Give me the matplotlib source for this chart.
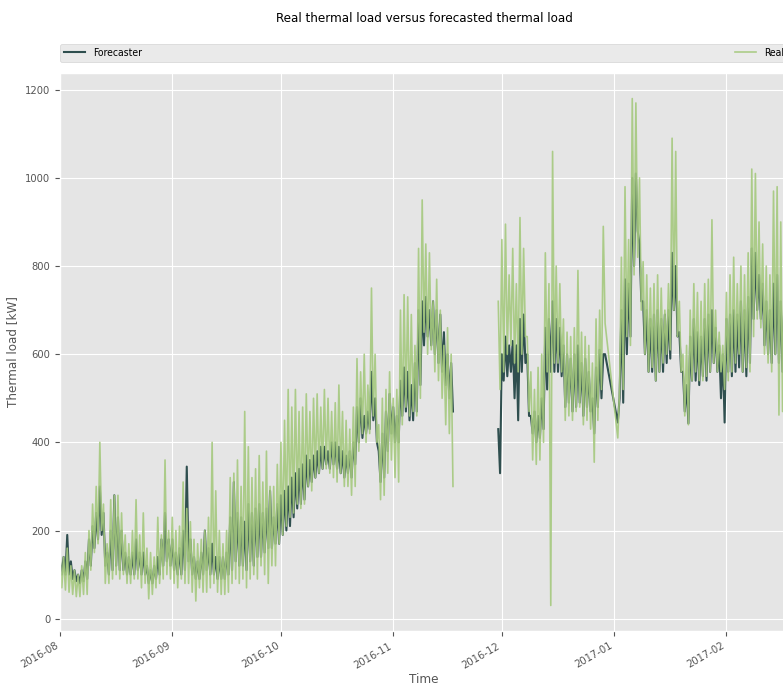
import matplotlib
matplotlib.use('Agg')
import matplotlib.pyplot as plt
import matplotlib.dates as mdates
import numpy as np
import pandas as pd

# 12-hourly readings (first value of each day = daily high, second = daily low), kW
chunk_starts = ['2016-08-01', '2016-09-01', '2016-10-01', '2016-11-01',
                '2016-11-30', '2017-01-02', '2017-02-01']

real_aug = [150, 70, 140, 65, 160, 60, 120, 55, 110, 50, 100, 50, 120, 55, 150, 55,
            200, 110, 260, 150, 300, 170, 400, 200, 260, 80, 170, 80, 270, 90, 280, 100,
            280, 90, 240, 100, 190, 80, 170, 80, 200, 90, 270, 90, 190, 70, 240, 80,
            160, 45, 150, 55, 140, 70, 230, 80, 190, 90, 360, 100, 200, 90]
fc_aug = [130, 100, 140, 100, 190, 100, 130, 90, 110, 85, 100, 80, 110, 85, 130, 90,
          180, 120, 210, 160, 240, 180, 300, 190, 240, 120, 150, 100, 200, 110, 280, 120,
          230, 110, 200, 110, 150, 100, 140, 100, 150, 100, 180, 110, 150, 100, 150, 100,
          120, 80, 110, 80, 120, 90, 140, 100, 180, 120, 240, 130, 180, 120]

real_sep = [230, 80, 200, 70, 210, 90, 310, 80, 250, 80, 220, 60, 180, 40, 170, 70,
            180, 60, 200, 60, 230, 70, 400, 80, 290, 60, 200, 55, 170, 55, 200, 60,
            320, 80, 330, 90, 360, 80, 300, 90, 470, 70, 390, 90, 320, 100, 340, 90,
            370, 120, 310, 100, 380, 80, 300, 120, 300, 120, 350, 170]
fc_sep = [180, 110, 150, 100, 160, 100, 200, 110, 345, 130, 180, 100, 140, 90, 130, 90,
          150, 100, 200, 110, 160, 100, 170, 100, 140, 90, 140, 90, 140, 90, 150, 100,
          230, 110, 310, 130, 240, 120, 230, 120, 220, 110, 260, 130, 240, 120, 250, 140,
          260, 140, 240, 150, 250, 160, 290, 160, 230, 170, 260, 170]

real_oct = [400, 190, 450, 210, 520, 230, 480, 240, 520, 260, 470, 250, 480, 260, 510, 300,
            470, 290, 500, 320, 510, 330, 480, 340, 520, 340, 500, 330, 470, 320, 490, 310,
            530, 330, 470, 300, 450, 300, 430, 280, 480, 300, 590, 380, 560, 420, 600, 400,
            530, 420, 750, 460, 600, 400, 440, 270, 500, 280, 520, 330, 560, 360]
fc_oct = [280, 190, 290, 200, 300, 210, 320, 230, 330, 250, 340, 260, 350, 270, 370, 300,
          360, 310, 370, 320, 380, 330, 390, 340, 390, 350, 380, 340, 400, 350, 400, 340,
          390, 330, 380, 320, 370, 330, 380, 320, 400, 350, 480, 400, 500, 410, 460, 420,
          470, 430, 560, 450, 500, 400, 380, 310, 420, 320, 470, 380, 510, 420]

real_nov = [500, 320, 520, 310, 700, 440, 735, 480, 730, 460, 690, 470, 620, 460, 840, 500,
            950, 650, 850, 600, 830, 610, 720, 560, 770, 540, 700, 500, 620, 440, 660, 420,
            600, 300]
fc_nov = [480, 400, 460, 400, 540, 460, 570, 470, 560, 450, 530, 450, 580, 470, 700, 530,
          720, 620, 730, 640, 700, 620, 720, 600, 700, 580, 690, 560, 650, 530, 600, 500,
          580, 470]

real_dec = [720, 520, 860, 560, 895, 600, 780, 620, 840, 580, 760, 560, 910, 600, 840, 640,
            640, 470, 560, 360, 520, 350, 570, 360, 600, 400, 830, 560, 760, 30, 1060, 580,
            800, 580, 760, 560, 680, 450, 650, 460, 640, 450, 660, 470, 790, 480, 650, 440,
            640, 450, 620, 430, 580, 355, 680, 450, 700, 520, 890, 670]
fc_dec = [430, 330, 600, 540, 640, 550, 620, 560, 630, 500, 620, 450, 680, 560, 690, 580,
          600, 460, 460, 420, 470, 400, 460, 410, 500, 430, 660, 520, 680, 560, 720, 560,
          680, 560, 660, 550, 620, 480, 600, 490, 590, 470, 600, 480, 620, 490, 580, 460,
          590, 480, 560, 470, 500, 420, 570, 480, 610, 500, 600, 600]

real_jan = [410, 520, 820, 520, 980, 640, 860, 620, 1180, 780, 1170, 820, 1000, 700, 810, 600,
            780, 560, 750, 570, 760, 540, 780, 560, 750, 580, 700, 600, 760, 610, 1090, 700,
            1060, 640, 720, 560, 600, 460, 620, 440, 700, 540, 760, 560, 740, 540, 720, 540,
            760, 550, 770, 560, 905, 580, 700, 560, 650, 560, 620, 520]
fc_jan = [445, 500, 700, 490, 770, 600, 760, 640, 1000, 800, 1010, 880, 850, 720, 720, 600,
          700, 560, 680, 560, 690, 540, 700, 560, 680, 560, 690, 580, 700, 590, 830, 700,
          800, 640, 650, 560, 560, 470, 530, 443, 640, 540, 680, 540, 650, 530, 640, 550,
          680, 540, 690, 560, 700, 580, 660, 560, 620, 500, 600, 445]

real_feb = [740, 540, 780, 560, 820, 580, 760, 600, 800, 560, 780, 570, 830, 560, 1020, 640,
            1010, 680, 900, 660, 850, 600, 800, 580, 780, 560, 970, 600, 980, 462, 900, 470,
            820, 600, 800, 600, 780, 600]
fc_feb = [680, 560, 690, 550, 700, 560, 690, 570, 720, 560, 700, 550, 730, 580, 840, 680,
          830, 700, 780, 680, 760, 620, 720, 600, 700, 580, 760, 600, 780, 580, 720, 560,
          720, 580, 700, 580, 700, 580]

gap_time = '2016-11-24'  # no data between Nov 18 and Nov 29


def build(chunks):
    parts = []
    for start, vals in zip(chunk_starts, chunks):
        idx = pd.date_range(start, periods=len(vals), freq='12h')
        parts.append(pd.Series(vals, index=idx, dtype=float))
    parts.insert(4, pd.Series([np.nan], index=pd.DatetimeIndex([gap_time])))
    return pd.concat(parts)


real = build([real_aug, real_sep, real_oct, real_nov, real_dec, real_jan, real_feb])
fc = build([fc_aug, fc_sep, fc_oct, fc_nov, fc_dec, fc_jan, fc_feb])

plt.style.use('ggplot')
plt.rcParams['font.stretch'] = 'condensed'
fig = plt.figure(figsize=(7.83, 6.87), dpi=100)
ax = fig.add_axes([60 / 783, 56 / 687, 728 / 783, 558 / 687])

ax.plot(fc.index, fc.values, color='#2f4f4f', lw=1.5, label='Forecaster')
ax.plot(real.index, real.values, color='#a5c97e', lw=1.2, alpha=0.9, label='Real')

ax.set_xlim(pd.Timestamp('2016-08-01'), pd.Timestamp('2017-02-18'))
ax.set_ylim(-28, 1238)
ax.set_yticks(np.arange(0, 1201, 200))
ax.xaxis.set_major_locator(mdates.MonthLocator())
ax.xaxis.set_major_formatter(mdates.DateFormatter('%Y-%m'))
for lbl in ax.get_xticklabels():
    lbl.set_rotation(30)
    lbl.set_ha('right')
ax.tick_params(labelsize=8)

ax.set_xlabel('Time', fontsize=9.5, labelpad=2)
ax.set_ylabel('Thermal load [kW]', fontsize=9.5)
ax.set_title('Real thermal load versus forecasted thermal load', fontsize=9.5, pad=37)
ax.legend(bbox_to_anchor=(0, 1.02, 1, 0.032), loc='lower left', ncol=2,
          mode='expand', borderaxespad=0, fontsize=7.5)

fig.savefig('out.png', dpi=100)
